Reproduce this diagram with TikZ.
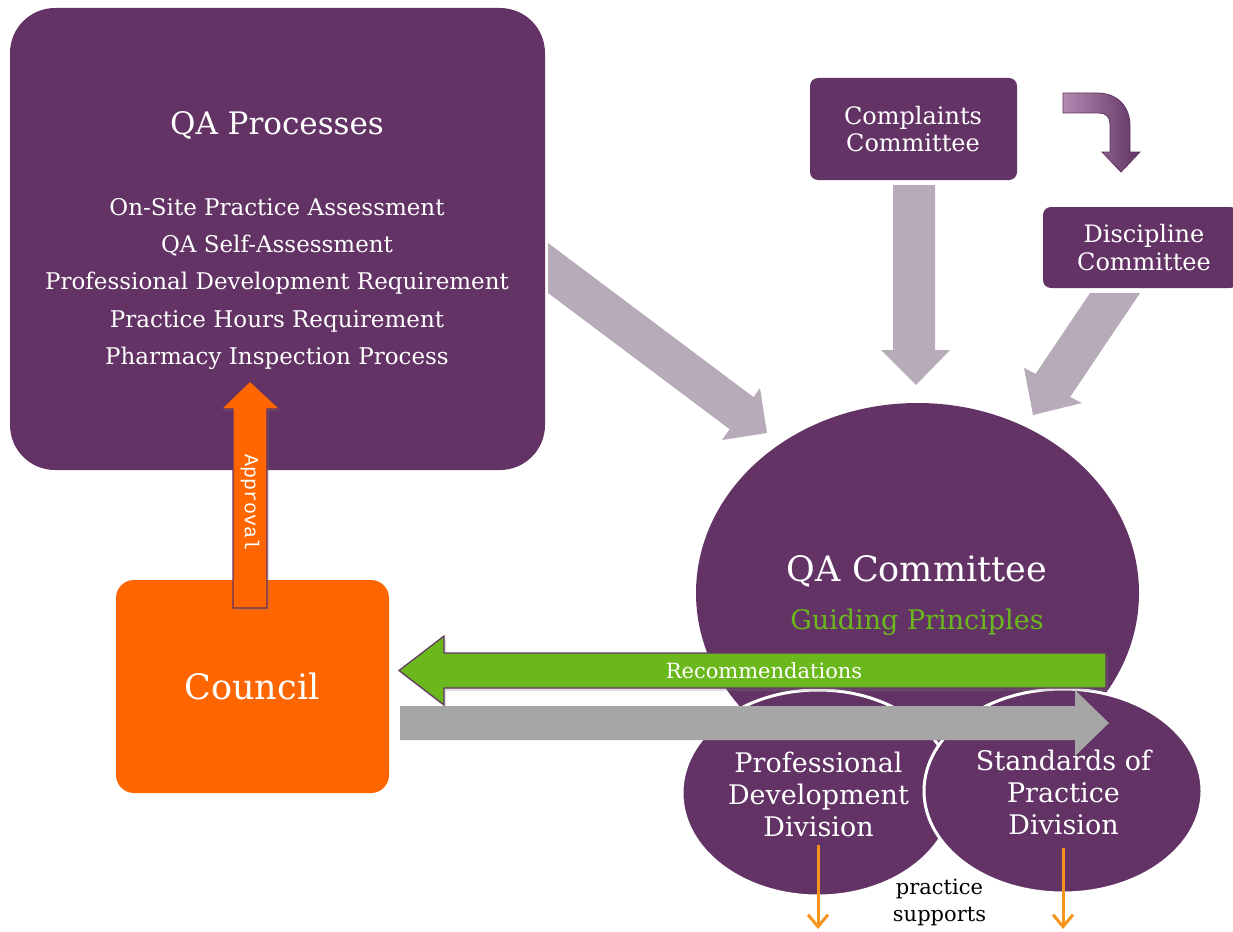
\documentclass[tikz,border=0pt]{standalone}
\usepackage{fontspec}
\setmainfont{DejaVu Serif}
\newfontfamily\apfont{Liberation Mono}
\usetikzlibrary{shapes.geometric,arrows.meta,shadows}
\definecolor{qapurple}{RGB}{99,51,101}
\definecolor{fatgrey}{RGB}{184,171,185}
\definecolor{midgrey}{RGB}{166,166,166}
\definecolor{counciloj}{RGB}{255,102,0}
\definecolor{recgreen}{RGB}{106,184,28}
\definecolor{thinoj}{RGB}{247,148,30}
\definecolor{curvelight}{RGB}{178,138,178}
\definecolor{curvedark}{RGB}{96,52,98}
\tikzset{
  pbox/.style={fill=qapurple, draw=none, inner sep=0pt},
  wtext/.style={text=white, align=center, inner sep=0pt},
  fatarrow/.style={fill=fatgrey, draw=none},
  oval/.style={ellipse, fill=qapurple, inner sep=0pt},
  subdiv/.style={ellipse, fill=qapurple, draw=white, line width=3pt, inner sep=0pt},
  downarrow/.style={draw=thinoj, line width=3pt, -{Straight Barb[length=12pt,width=20pt,line width=3pt]}},
}
\begin{document}
\begin{tikzpicture}[x=1pt,y=-1pt]
\useasboundingbox (0,0) rectangle (1233,931);

% grey fat arrows
\draw[fatarrow] (548,243) -- (753.6,397.2) -- (760,388) -- (767,433) -- (722,440) -- (729.6,429.2) -- (548,293) -- cycle;
\draw[fatarrow] (893,185) -- (893,350) -- (881,350) -- (916,385) -- (950,350) -- (935,350) -- (935,185) -- cycle;
\draw[fatarrow] (1090,293) -- (1035.6,373.8) -- (1024,368) -- (1033,415) -- (1082,403) -- (1070.1,397) -- (1140,293) -- cycle;

% QA Processes
\node[pbox, rounded corners=45pt, minimum width=535pt, minimum height=462pt] (proc) at (277.5,239) {};
\node[wtext, font=\fontsize{31}{36}\selectfont] (proctitle) at (277,125) {QA Processes};
\node[wtext, font=\fontsize{23}{37.2}\selectfont] (proclist) at (277,284) {On-Site Practice Assessment\\QA Self-Assessment\\Professional Development Requirement\\Practice Hours Requirement\\Pharmacy Inspection Process};

% Complaints / Discipline
\node[pbox, rounded corners=8pt, minimum width=207pt, minimum height=102pt] (compl) at (913.5,129) {};
\node[wtext, font=\fontsize{24}{27}\selectfont] (compltext) at (913,129) {Complaints\\Committee};
\node[pbox, rounded corners=8pt, minimum width=195pt, minimum height=81pt] (disc) at (1140.5,247.5) {};
\node[wtext, font=\fontsize{24}{28}\selectfont] (disctext) at (1144,248) {Discipline\\Committee};

% curved arrow
\draw[left color=curvelight, right color=curvedark, draw=curvedark, line width=0.8pt]
  (1063,93) -- (1097,93) .. controls (1117,93) and (1130,106) .. (1130,126)
  -- (1130,152) -- (1140,152) -- (1121,172) -- (1102,152) -- (1110,152)
  -- (1110,124) .. controls (1110,117) and (1106,113) .. (1099,113) -- (1063,113) -- cycle;

% QA Committee
\node[oval, minimum width=443pt, minimum height=380pt] (qac) at (917.5,593) {};
\node[wtext, font=\fontsize{35}{38}\selectfont] (qactitle) at (917,571) {QA Committee};
\node[wtext, text=recgreen, font=\fontsize{27}{30}\selectfont] (guiding) at (917,622) {Guiding Principles};

% Divisions
\node[subdiv, minimum width=272pt, minimum height=206pt] (pdd) at (818,793) {};
\node[subdiv, minimum width=278pt, minimum height=204pt] (spd) at (1063,791) {};
\node[wtext, font=\fontsize{27}{32}\selectfont] (pddtext) at (818.5,794) {Professional\\Development\\Division};
\node[wtext, font=\fontsize{27}{32}\selectfont] (spdtext) at (1063.5,792) {Standards of\\Practice\\Division};

% Council
\node[rounded corners=18pt, fill=counciloj, minimum width=273pt, minimum height=213pt, inner sep=0pt] (council) at (252.5,686.5) {};
\node[wtext, font=\fontsize{35}{38}\selectfont] (counciltext) at (252,686) {Council};

% Recommendations arrow
\draw[fill=recgreen, draw=qapurple, line width=1.2pt, drop shadow={opacity=0.25, shadow xshift=2pt, shadow yshift=-3pt}]
  (1106,653) -- (444,653) -- (444,636) -- (399,670.5) -- (444,705) -- (444,688) -- (1106,688) -- cycle;
\node[wtext, font=\fontsize{21}{23}\selectfont] (rectext) at (764,671) {Recommendations};

% grey arrow to the right
\draw[fill=midgrey, draw=none] (400,706) -- (1075,706) -- (1075,690) -- (1109,723) -- (1075,756) -- (1075,740) -- (400,740) -- cycle;

% Approval arrow
\draw[fill=counciloj, draw=qapurple, line width=1.2pt, drop shadow={opacity=0.25, shadow xshift=2pt, shadow yshift=-2pt}]
  (233,608) -- (233,409) -- (221,409) -- (250,381) -- (280,409) -- (267,409) -- (267,608) -- cycle;
\node[wtext, rotate=-90, font=\apfont\fontsize{20}{22}\selectfont] (apptext) at (250,503) {Approval};

% thin orange arrows
\coordinate (pddend) at (818,929);
\coordinate (spdend) at (1063,929);
\draw[downarrow] (pdd.center |- 0,845) -- (pddend);
\draw[downarrow] (spd.center |- 0,848) -- (spdend);
\node[align=center, inner sep=0pt, font=\fontsize{21}{27}\selectfont] (supports) at (939.5,902) {practice\\supports};
\end{tikzpicture}
\end{document}
